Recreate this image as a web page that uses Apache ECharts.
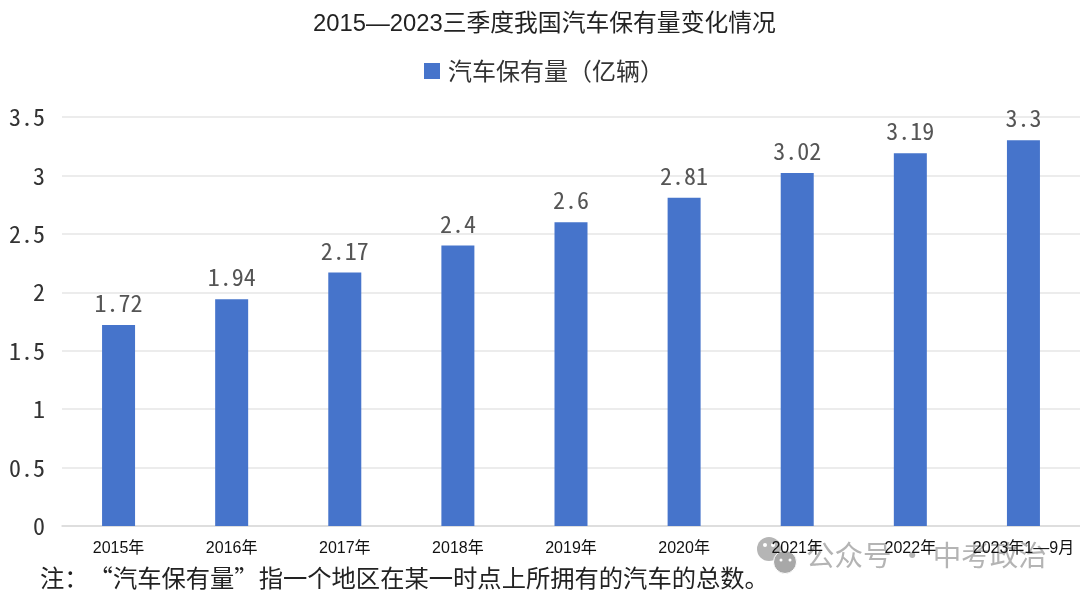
<!DOCTYPE html>
<html lang="zh-CN">
<head>
    <meta charset="UTF-8">
    <title>汽车保有量</title>
    <style>
        html, body { margin: 0; padding: 0; background: #fff; }
        #container { width: 1080px; height: 598px; }
    </style>
</head>
<body>
<div id="container"></div>
<script src="https://cdn.jsdelivr.net/npm/echarts@6/dist/echarts.min.js"></script>
<script>
var categories = ['2015年', '2016年', '2017年', '2018年', '2019年', '2020年', '2021年', '2022年', '2023年1—9月'];
var values = [1.72, 1.94, 2.17, 2.4, 2.6, 2.81, 3.02, 3.19, 3.3];
var seriesName = '汽车保有量（亿辆）';
var titleText = '2015—2023三季度我国汽车保有量变化情况';
var noteText = '注：“汽车保有量”指一个地区在某一时点上所拥有的汽车的总数。';
var watermarkText = '公众号 · 中考政治';

var latin = '"Liberation Sans", "Noto Sans CJK SC", sans-serif';
var cjk = '"Noto Sans CJK SC", sans-serif';
var mono = '"Noto Sans Mono CJK SC", "DejaVu Sans Mono", monospace';

var chart = echarts.init(document.getElementById('container'));
chart.setOption({
    animation: false,
    backgroundColor: '#fff',
    title: {
        text: titleText,
        left: 308,
        top: 8,
        textStyle: { color: '#222', fontFamily: latin, fontWeight: 'normal', fontSize: 23.8 }
    },
    legend: {
        data: [seriesName],
        icon: 'rect',
        left: 419,
        top: 54,
        itemWidth: 16,
        itemHeight: 16,
        textStyle: { color: '#333', fontFamily: cjk, fontSize: 24, padding: [0, 0, 0, 3] }
    },
    grid: { left: 62, right: -3, top: 117, bottom: 72 },
    xAxis: {
        type: 'category',
        data: categories,
        axisTick: { show: false },
        axisLine: { lineStyle: { color: '#d9d9d9', width: 1.5 } },
        axisLabel: { color: '#111', fontFamily: latin, fontSize: 16, margin: 15, interval: 0 }
    },
    yAxis: {
        type: 'value',
        min: 0,
        max: 3.5,
        interval: 0.5,
        axisLine: { show: false },
        axisTick: { show: false },
        splitLine: { lineStyle: { color: '#e6e6e6', width: 1.5 } },
        axisLabel: { color: '#333', fontFamily: mono, fontSize: 24, margin: 17 }
    },
    series: [{
        name: seriesName,
        type: 'bar',
        data: values,
        barWidth: 33,
        itemStyle: { color: '#4674cb' },
        label: {
            show: true,
            position: 'top',
            distance: 10,
            color: '#555',
            fontFamily: mono,
            fontSize: 24
        }
    }],
    graphic: [
        {
            type: 'text', left: 40, top: 566, z: 10,
            style: { text: noteText, fill: '#222', font: '24.3px ' + cjk }
        },
        // 水印
        { type: 'circle', shape: { cx: 769, cy: 549, r: 12 }, z: -3, style: { fill: '#b5b5b5' } },
        { type: 'circle', shape: { cx: 785, cy: 562, r: 11.5 }, z: -2, style: { fill: '#a8a8a8', stroke: '#fff', lineWidth: 1 } },
        { type: 'circle', shape: { cx: 765, cy: 545, r: 2 }, z: -1, style: { fill: '#fff' } },
        { type: 'circle', shape: { cx: 773, cy: 545, r: 2 }, z: -1, style: { fill: '#fff' } },
        { type: 'circle', shape: { cx: 781, cy: 560, r: 1.5 }, z: -1, style: { fill: '#fff' } },
        { type: 'circle', shape: { cx: 790, cy: 560, r: 1.5 }, z: -1, style: { fill: '#fff' } },
        {
            type: 'text', left: 806, top: 541, z: -3,
            style: { text: watermarkText, fill: '#b4b4b4', font: '28.5px ' + cjk }
        }
    ]
});
</script>
</body>
</html>
